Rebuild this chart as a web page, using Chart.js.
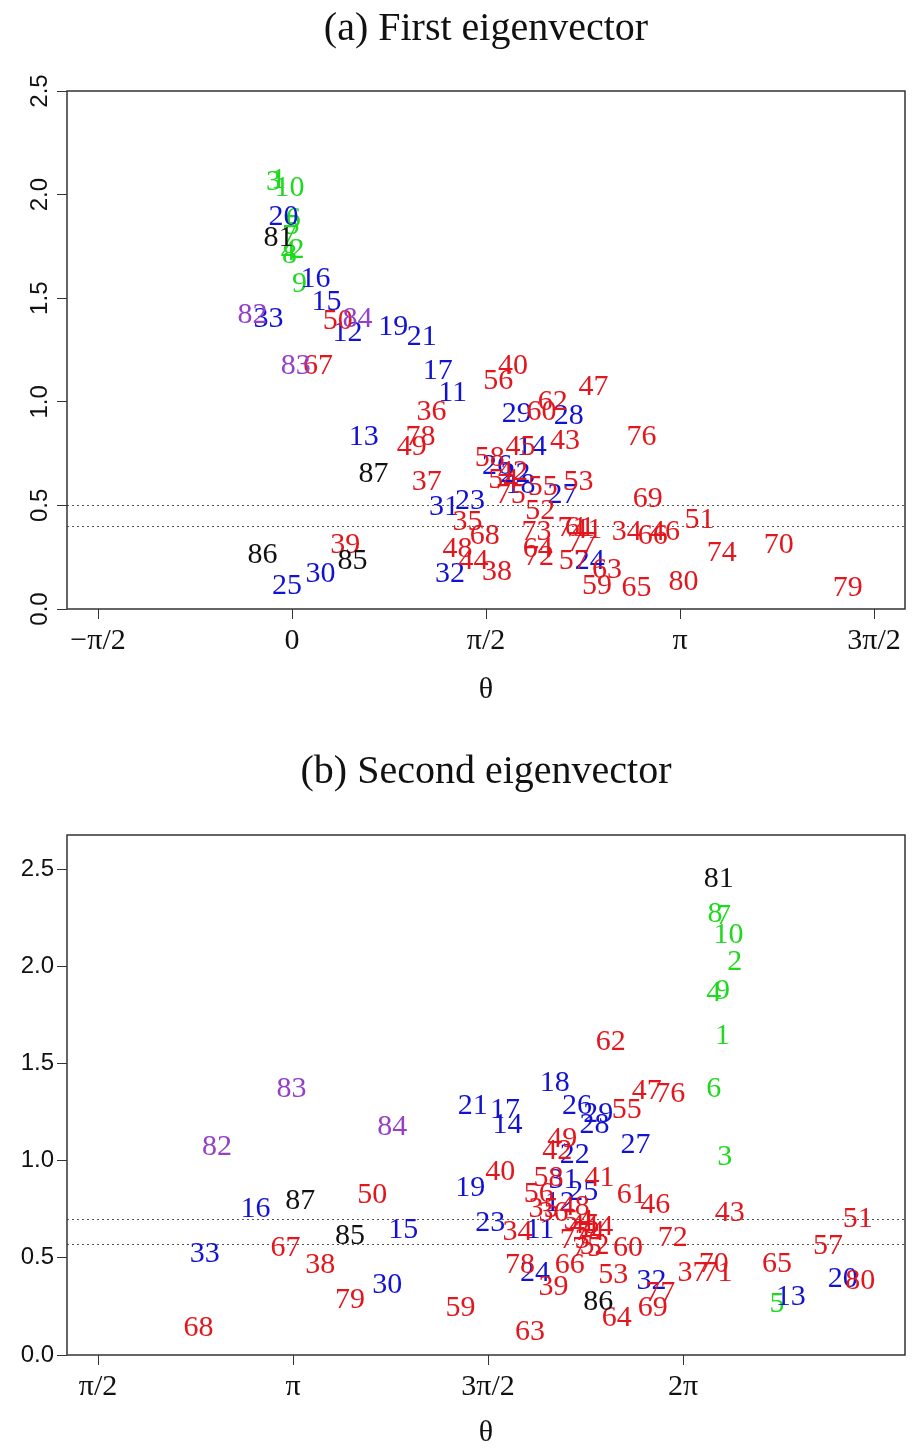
<!DOCTYPE html>
<html>
<head>
<meta charset="utf-8">
<script src="https://cdn.jsdelivr.net/npm/chart.js@4/dist/chart.umd.min.js"></script>
<style>
  body { margin: 0; background: #fff; width: 915px; height: 1448px; position: relative; overflow: hidden; }
  .panel { position: absolute; left: 0; width: 915px; }
  #wrapA { top: 0; height: 720px; }
  #wrapB { top: 720px; height: 728px; }
  .ttl { position: absolute; left: 67px; width: 838px; text-align: center;
         font-family: "Liberation Serif", serif; font-size: 40px; line-height: 40px; color: #111; }
</style>
</head>
<body>
<div class="panel" id="wrapA"><canvas id="chartA"></canvas></div>
<div class="panel" id="wrapB"><canvas id="chartB"></canvas></div>
<div class="ttl" id="titleA" style="top:7px">(a) First eigenvector</div>
<div class="ttl" id="titleB" style="top:750px">(b) Second eigenvector</div>
<script>
// point ids 1..87 (drawn as text marks)
const ids = [
  1, 2, 3, 4, 5, 6, 7, 8, 9, 10,
  11, 12, 13, 14, 15, 16, 17, 18, 19, 20,
  21, 22, 23, 24, 25, 26, 27, 28, 29, 30,
  31, 32, 33, 34, 35, 36, 37, 38, 39, 40,
  41, 42, 43, 44, 45, 46, 47, 48, 49, 50,
  51, 52, 53, 54, 55, 56, 57, 58, 59, 60,
  61, 62, 63, 64, 65, 66, 67, 68, 69, 70,
  71, 72, 73, 74, 75, 76, 77, 78, 79, 80,
  81, 82, 83, 84, 85, 86, 87
];

// (a) first eigenvector: angle theta and modulus
const thetaA = [
  -0.11, 0.04, -0.15, -0.03, 0.00, 0.01, -0.02, -0.02, 0.06, -0.02,
  1.30, 0.45, 0.58, 1.94, 0.28, 0.19, 1.18, 1.85, 0.82, -0.07,
  1.05, 1.81, 1.44, 2.41, -0.04, 1.66, 2.19, 2.24, 1.82, 0.23,
  1.23, 1.28, -0.19, 2.71, 1.42, 1.13, 1.09, 1.66, 0.43, 1.79,
  2.39, 1.79, 2.21, 1.47, 1.85, 3.02, 2.44, 1.34, 0.97, 0.37,
  3.30, 2.01, 2.32, 1.71, 2.03, 1.67, 2.28, 1.60, 2.47, 2.02,
  2.33, 2.11, 2.55, 1.99, 2.79, 2.92, 0.21, 1.56, 2.88, 3.94,
  2.27, 2.00, 1.98, 3.48, 1.77, 2.83, 2.35, 1.04, 4.50, 3.17,
  -0.11, -0.32, 0.03, 0.53, 0.49, -0.24, 0.66
];
const modA = [
  2.07, 1.73, 2.06, 1.72, 1.85, 1.88, 1.80, 1.71, 1.57, 2.03,
  1.04, 1.33, 0.83, 0.78, 1.48, 1.59, 1.15, 0.60, 1.36, 1.89,
  1.31, 0.65, 0.52, 0.23, 0.11, 0.69, 0.55, 0.93, 0.94, 0.17,
  0.49, 0.17, 1.40, 0.37, 0.42, 0.95, 0.61, 0.18, 0.31, 1.17,
  0.38, 0.66, 0.81, 0.23, 0.78, 0.37, 1.07, 0.29, 0.78, 1.39,
  0.43, 0.47, 0.61, 0.62, 0.59, 1.10, 0.23, 0.73, 0.11, 0.95,
  0.39, 1.00, 0.19, 0.29, 0.10, 0.35, 1.17, 0.35, 0.53, 0.31,
  0.39, 0.25, 0.37, 0.27, 0.55, 0.83, 0.32, 0.83, 0.10, 0.13,
  1.79, 1.42, 1.17, 1.40, 0.23, 0.26, 0.65
];

// (b) second eigenvector
const thetaB = [
  6.60, 6.70, 6.62, 6.53, 7.04, 6.53, 6.61, 6.54, 6.60, 6.65,
  5.13, 5.29, 7.15, 4.87, 4.03, 2.84, 4.85, 5.25, 4.57, 7.57,
  4.59, 5.41, 4.73, 5.09, 5.48, 5.43, 5.90, 5.57, 5.60, 3.90,
  5.32, 6.03, 2.43, 4.95, 5.16, 5.24, 6.36, 3.36, 5.24, 4.81,
  5.61, 5.27, 6.66, 5.60, 5.49, 6.06, 5.99, 5.41, 5.31, 3.78,
  7.69, 5.57, 5.72, 5.44, 5.83, 5.12, 7.45, 5.20, 4.49, 5.84,
  5.87, 5.70, 5.05, 5.75, 7.04, 5.37, 3.08, 2.38, 6.04, 6.53,
  6.56, 6.20, 5.41, 5.53, 5.51, 6.18, 6.10, 4.97, 3.60, 7.71,
  6.57, 2.53, 3.13, 3.94, 3.60, 5.60, 3.20
];
const modB = [
  1.64, 2.02, 1.02, 1.86, 0.26, 1.37, 2.26, 2.27, 1.87, 2.16,
  0.64, 0.78, 0.30, 1.18, 0.64, 0.75, 1.26, 1.40, 0.86, 0.39,
  1.28, 1.03, 0.68, 0.42, 0.84, 1.28, 1.08, 1.18, 1.24, 0.36,
  0.90, 0.38, 0.52, 0.63, 0.75, 0.73, 0.42, 0.46, 0.35, 0.94,
  0.91, 1.05, 0.73, 0.66, 0.67, 0.77, 1.36, 0.76, 1.11, 0.82,
  0.70, 0.56, 0.41, 0.69, 1.26, 0.83, 0.56, 0.91, 0.24, 0.55,
  0.82, 1.61, 0.12, 0.19, 0.47, 0.46, 0.55, 0.14, 0.24, 0.47,
  0.42, 0.60, 0.59, 0.63, 0.55, 1.34, 0.32, 0.46, 0.28, 0.38,
  2.45, 1.07, 1.37, 1.17, 0.61, 0.27, 0.79
];

// dotted cut-off lines
const cutA = [0.5, 0.4];
const cutB = [0.7, 0.57];

// axis ticks
const PI = Math.PI;
const xTicksA = [-PI / 2, 0, PI / 2, PI, 3 * PI / 2];
const xLabelsA = ["\u2212\u03c0/2", "0", "\u03c0/2", "\u03c0", "3\u03c0/2"];
const xTicksB = [PI / 2, PI, 3 * PI / 2, 2 * PI];
const xLabelsB = ["\u03c0/2", "\u03c0", "3\u03c0/2", "2\u03c0"];
const yTicks = [0, 0.5, 1, 1.5, 2, 2.5];

function colourFor(id) {
  if (id <= 10) return "#1fd81f";
  if (id <= 33) return "#1212d2";
  if (id <= 80) return "#e2161c";
  if (id === 81 || id >= 85) return "#111";
  return "#9440c8";
}

const textMarks = {
  id: "textMarks",
  afterDatasetsDraw(chart) {
    const meta = chart.getDatasetMeta(0);
    const ctx = chart.ctx;
    ctx.save();
    ctx.font = '30px "Liberation Serif"';
    ctx.textAlign = "center";
    ctx.textBaseline = "middle";
    meta.data.forEach((pt, i) => {
      ctx.fillStyle = colourFor(ids[i]);
      ctx.fillText(String(ids[i]), pt.x, pt.y);
    });
    ctx.restore();
  }
};

const frame = {
  id: "frame",
  beforeDatasetsDraw(chart, args, opts) {
    const { ctx, chartArea: a } = chart;
    const y = chart.scales.y;
    ctx.save();
    ctx.setLineDash([2, 3]);
    ctx.strokeStyle = "#555";
    ctx.lineWidth = 1;
    (opts.cuts || []).forEach(v => {
      const py = Math.round(y.getPixelForValue(v)) + 0.5;
      ctx.beginPath();
      ctx.moveTo(a.left, py);
      ctx.lineTo(a.right, py);
      ctx.stroke();
    });
    ctx.restore();
  },
  afterDraw(chart) {
    const { ctx, chartArea: a } = chart;
    ctx.save();
    ctx.strokeStyle = "#333";
    ctx.lineWidth = 1.5;
    ctx.strokeRect(a.left, a.top, a.right - a.left, a.bottom - a.top);
    ctx.restore();
  }
};

function makeChart(id, theta, mod, o) {
  const cfg = {
    type: "scatter",
    data: {
      datasets: [{
        data: theta.map((t, i) => ({ x: t, y: mod[i] })),
        pointRadius: 0,
        pointHoverRadius: 0
      }]
    },
    options: {
      responsive: true,
      maintainAspectRatio: false,
      animation: false,
      events: [],
      layout: { padding: { left: 0, right: 10, top: o.padTop, bottom: 0 } },
      plugins: {
        legend: { display: false },
        tooltip: { enabled: false },
        frame: { cuts: o.cuts }
      },
      scales: {
        x: {
          type: "linear",
          min: o.xMin,
          max: o.xMax,
          afterBuildTicks: axis => { axis.ticks = o.xTicks.map(v => ({ value: v })); },
          afterFit: s => { s.height = o.xHeight; },
          ticks: {
            callback: (v, i) => o.xLabels[i],
            autoSkip: false,
            maxRotation: 0,
            padding: 4,
            color: "#111",
            font: { family: "Liberation Serif", size: 30 }
          },
          grid: { drawOnChartArea: false, drawTicks: true, tickLength: 10, color: "#333" },
          border: { display: false },
          title: {
            display: true,
            text: "\u03b8",
            color: "#111",
            font: { family: "Liberation Serif", size: 30, lineHeight: 1 },
            padding: { top: 0, bottom: o.thetaPad }
          }
        },
        y: {
          type: "linear",
          min: 0,
          max: o.yMax,
          afterBuildTicks: axis => { axis.ticks = yTicks.map(v => ({ value: v })); },
          afterFit: s => { s.width = 67; },
          ticks: {
            callback: v => v.toFixed(1),
            minRotation: o.yRot,
            maxRotation: o.yRot,
            crossAlign: o.yRot ? "center" : "near",
            padding: o.yRot ? 0 : 3,
            color: "#111",
            font: { family: "Liberation Sans", size: 24 }
          },
          grid: { drawOnChartArea: false, drawTicks: true, tickLength: 10, color: "#333" },
          border: { display: false }
        }
      }
    },
    plugins: [frame, textMarks]
  };
  return new Chart(document.getElementById(id).getContext("2d"), cfg);
}

makeChart("chartA", thetaA, modA, {
  padTop: 91, xMin: -1.822, xMax: 4.963, yMax: 2.5, xTicks: xTicksA, xLabels: xLabelsA,
  xHeight: 111, thetaPad: 15, yRot: 90, cuts: cutA
});
makeChart("chartB", thetaB, modB, {
  padTop: 115, xMin: 1.321, xMax: 8.071, yMax: 2.675, xTicks: xTicksB, xLabels: xLabelsB,
  xHeight: 93, thetaPad: 0, yRot: 0, cuts: cutB
});
</script>
</body>
</html>
